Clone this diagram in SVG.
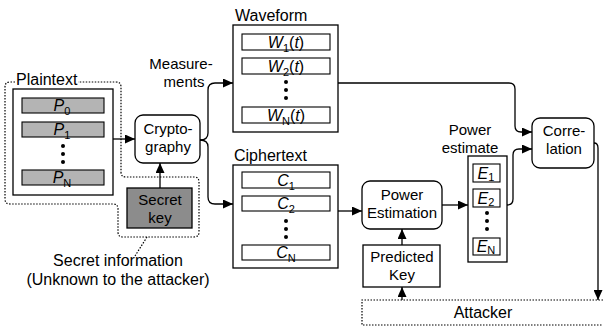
<svg xmlns="http://www.w3.org/2000/svg" width="603" height="327" viewBox="0 0 603 327">
<defs>
<marker id="ah" markerUnits="userSpaceOnUse" markerWidth="10" markerHeight="9" refX="10" refY="4.5" orient="auto">
<path d="M0,0 L10,4.5 L0,9 Z" fill="#000"/>
</marker>
<style>
text{font-family:"Liberation Sans",Arial,sans-serif;font-size:16px;fill:#000}
.m{text-anchor:middle}
.t{font-size:15px}
.box{fill:#fff;stroke:#000;stroke-width:1.3}
.bar{fill:#fff;stroke:#000;stroke-width:1.1}
.pbar{fill:#b4b4b4;stroke:#000;stroke-width:1.1}
.dot{stroke:#000;stroke-width:1.2;stroke-dasharray:1.5 1.5;fill:none}
.arr{stroke:#000;stroke-width:1.3;fill:none;marker-end:url(#ah)}
.i{font-style:italic}
.s{font-size:11px}
.d{fill:#000}
</style>
</defs>
<rect width="603" height="327" fill="#fff"/>

<g id="secret-region">
<path class="dot" d="M15,82 H10 Q5,82 5,87 V199 Q5,204 10,204 H113 Q118,204 118,209 V232 Q118,237 123,237 H194 Q199,237 199,232 V182 Q199,177 194,177 H126 Q121,177 121,172 V87 Q121,82 116,82 H78"/>
<path class="dot" d="M147,237 L135,256"/>
<text class="m" x="118" y="266">Secret information</text>
<text class="m" x="118" y="285">(Unknown to the attacker)</text>
</g>

<g id="plaintext">
<text x="16" y="85">Plaintext</text>
<rect class="box" x="13" y="89" width="100" height="106"/>
<rect class="pbar" x="22" y="98" width="82" height="15"/>
<rect class="pbar" x="22" y="122" width="82" height="15"/>
<rect class="pbar" x="22" y="170" width="82" height="15"/>
<text class="m" x="62" y="111"><tspan class="i">P</tspan><tspan class="s" dy="4">0</tspan></text>
<text class="m" x="62" y="135"><tspan class="i">P</tspan><tspan class="s" dy="4">1</tspan></text>
<text class="m" x="62" y="183"><tspan class="i">P</tspan><tspan class="s" dy="4">N</tspan></text>
<circle class="d" cx="63" cy="146" r="2"/><circle class="d" cx="63" cy="154" r="2"/><circle class="d" cx="63" cy="162" r="2"/>
</g>

<g id="secret-key">
<rect x="127" y="188" width="65" height="40" fill="#8c8c8c" stroke="#000" stroke-width="1.3"/>
<text class="m t" x="160" y="205">Secret</text>
<text class="m t" x="160" y="223">key</text>
</g>

<g id="cryptography">
<rect class="box" x="135" y="115" width="65" height="48" rx="8"/>
<text class="m t" x="168" y="134">Crypto-</text>
<text class="m t" x="168" y="152">graphy</text>
</g>

<g id="measurements">
<text class="m t" x="181" y="69">Measure-</text>
<text class="m t" x="184" y="87">ments</text>
</g>

<g id="waveform">
<text x="235" y="21">Waveform</text>
<rect class="box" x="233" y="25" width="105" height="107"/>
<rect class="bar" x="242" y="34" width="88" height="16"/>
<rect class="bar" x="242" y="58" width="88" height="16"/>
<rect class="bar" x="242" y="107" width="88" height="16"/>
<text class="m" x="286" y="48"><tspan class="i">W</tspan><tspan class="s" dy="4">1</tspan><tspan dy="-4">(</tspan><tspan class="i">t</tspan>)</text>
<text class="m" x="286" y="72"><tspan class="i">W</tspan><tspan class="s" dy="4">2</tspan><tspan dy="-4">(</tspan><tspan class="i">t</tspan>)</text>
<text class="m" x="286" y="121"><tspan class="i">W</tspan><tspan class="s" dy="4">N</tspan><tspan dy="-4">(</tspan><tspan class="i">t</tspan>)</text>
<circle class="d" cx="286" cy="82" r="2"/><circle class="d" cx="286" cy="90" r="2"/><circle class="d" cx="286" cy="98" r="2"/>
</g>

<g id="ciphertext">
<text x="234" y="161">Ciphertext</text>
<rect class="box" x="233" y="165" width="105" height="103"/>
<rect class="bar" x="242" y="172" width="88" height="16"/>
<rect class="bar" x="242" y="196" width="88" height="15"/>
<rect class="bar" x="242" y="245" width="88" height="15"/>
<text class="m" x="286" y="186"><tspan class="i">C</tspan><tspan class="s" dy="4">1</tspan></text>
<text class="m" x="286" y="209"><tspan class="i">C</tspan><tspan class="s" dy="4">2</tspan></text>
<text class="m" x="286" y="258"><tspan class="i">C</tspan><tspan class="s" dy="4">N</tspan></text>
<circle class="d" cx="286" cy="221" r="2"/><circle class="d" cx="286" cy="229" r="2"/><circle class="d" cx="286" cy="237" r="2"/>
</g>

<g id="power-estimation">
<rect class="box" x="362" y="181" width="80" height="48" rx="8"/>
<text class="m t" x="402" y="200">Power</text>
<text class="m t" x="402" y="218">Estimation</text>
</g>

<g id="predicted-key">
<rect class="box" x="363" y="245" width="77" height="42"/>
<text class="m t" x="402" y="262">Predicted</text>
<text class="m t" x="402" y="280">Key</text>
</g>

<g id="power-estimate">
<text class="m t" x="470" y="135">Power</text>
<text class="m t" x="470" y="153">estimate</text>
<rect class="box" x="468" y="156" width="39" height="106"/>
<rect class="bar" x="473" y="164" width="27" height="18"/>
<rect class="bar" x="473" y="189" width="27" height="18"/>
<rect class="bar" x="473" y="238" width="27" height="17"/>
<text class="m" x="486" y="179"><tspan class="i">E</tspan><tspan class="s" dy="2">1</tspan></text>
<text class="m" x="486" y="204"><tspan class="i">E</tspan><tspan class="s" dy="2">2</tspan></text>
<text class="m" x="486" y="252"><tspan class="i">E</tspan><tspan class="s" dy="2">N</tspan></text>
<circle class="d" cx="487" cy="213" r="2"/><circle class="d" cx="487" cy="221" r="2"/><circle class="d" cx="487" cy="229" r="2"/>
</g>

<g id="correlation">
<rect class="box" x="532" y="118" width="62" height="50" rx="8"/>
<text class="m t" x="564" y="136">Corre-</text>
<text class="m t" x="564" y="154">lation</text>
</g>

<g id="attacker">
<path class="dot" d="M603,300 H362 V325 H603"/>
<text class="m" x="483" y="318">Attacker</text>
</g>

<g id="connectors">
<path class="arr" d="M113,139 H135"/>
<path class="arr" d="M160,188 V163"/>
<path class="arr" d="M200,140 Q208,140 208,133 V90 Q208,83 215,83 H233"/>
<path class="arr" d="M200,140 Q208,140 208,147 V197 Q208,204 215,204 H233"/>
<path class="arr" d="M338,211 H362"/>
<path class="arr" d="M402,245 V229"/>
<path class="arr" d="M402,300 V287"/>
<path class="arr" d="M442,205 H468"/>
<path class="arr" d="M338,83 H509 Q515,83 515,89 V126 Q515,132 521,132 H532"/>
<path class="arr" d="M507,205 Q513,205 513,199 V155 Q513,149 519,149 H532"/>
<path class="arr" d="M594,143 Q598,143 598,148 V300"/>
</g>
</svg>
